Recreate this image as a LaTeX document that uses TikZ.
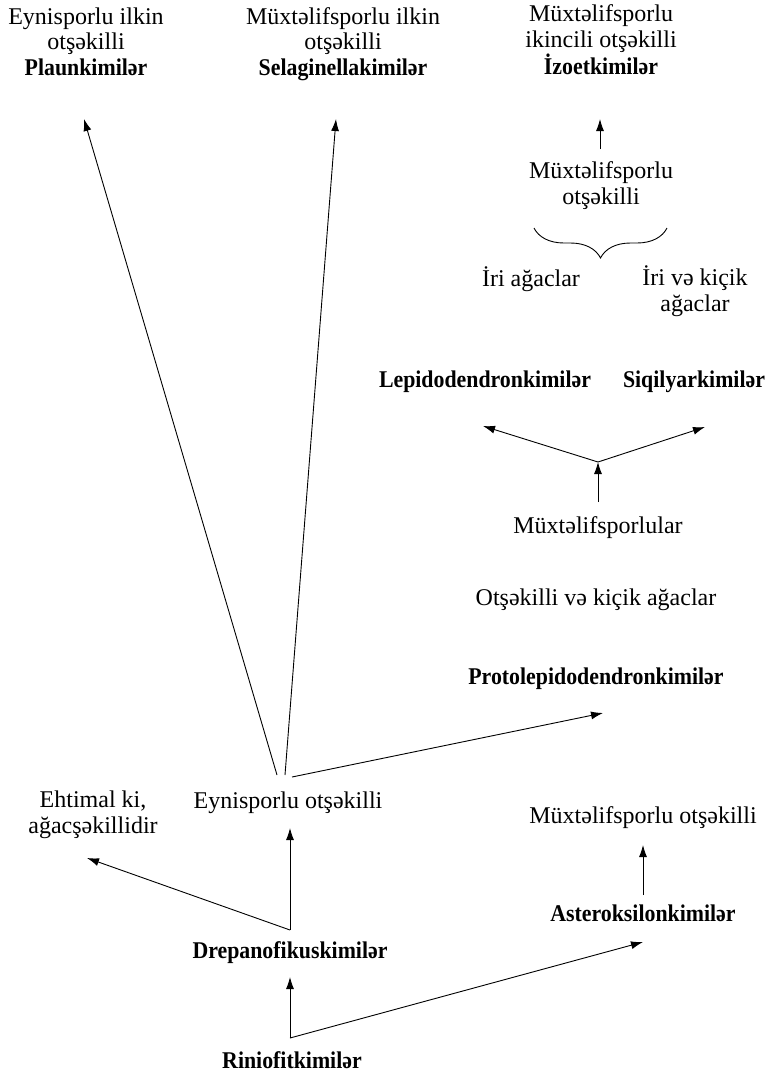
\documentclass[tikz,border=0pt]{standalone}
\usepackage{fontspec}
\setmainfont{Liberation Serif}[BoldFeatures={FakeStretch=0.91}]
\usetikzlibrary{arrows.meta,decorations.pathreplacing}
\begin{document}
\begin{tikzpicture}[x=1pt,y=-1pt,
  lbl/.style={align=center,font=\fontsize{24}{25.5}\selectfont,inner sep=0pt,anchor=base},
  blbl/.style={lbl,font=\fontsize{24}{25.5}\selectfont\bfseries},
  arr/.style={-{Latex[length=12pt,width=8pt]},line width=0.9pt},
  bracestyle/.style={decorate,decoration={brace,amplitude=30pt,mirror},line width=0.9pt}]
\useasboundingbox (0,0) rectangle (771,1072);

% text nodes (anchored at the baseline of the last line)
\node[lbl] (plaun) at (86,75) {Eynisporlu ilkin\\otşəkilli\\\textbf{Plaunkimilər}};
\node[lbl] (selag) at (343,75) {Müxtəlifsporlu ilkin\\otşəkilli\\\textbf{Selaginellakimilər}};
\node[lbl] (izoet) at (601,74) {Müxtəlifsporlu\\ikincili otşəkilli\\\textbf{İzoetkimilər}};
\node[lbl] (mux2) at (601,204) {Müxtəlifsporlu\\otşəkilli};
\node[lbl] (iri) at (531,286) {İri ağaclar};
\node[lbl] (irik) at (695,311) {İri və kiçik\\ağaclar};
\node[blbl] (lepi) at (485,387) {Lepidodendronkimilər};
\node[blbl] (siqi) at (694,387) {Siqilyarkimilər};
\node[lbl] (muxl) at (598,533) {Müxtəlifsporlular};
\node[lbl] (ots) at (596,605) {Otşəkilli və kiçik ağaclar};
\node[blbl] (proto) at (596,684) {Protolepidodendronkimilər};
\node[lbl] (eyn) at (288,808) {Eynisporlu otşəkilli};
\node[lbl] (ehti) at (93,833) {Ehtimal ki,\\ağacşəkillidir};
\node[lbl] (muxo) at (643,823) {Müxtəlifsporlu otşəkilli};
\node[blbl] (aster) at (643,921) {Asteroksilonkimilər};
\node[blbl] (drep) at (290,958) {Drepanofikuskimilər};
\node[blbl] (rinio) at (292,1068) {Riniofitkimilər};

% connector end points
\coordinate (eynA) at (277,775);
\coordinate (eynB) at (285,775);
\coordinate (eynC) at (292,777);
\coordinate (plaunIn) at (84,119);
\coordinate (selagIn) at (336,119);
\coordinate (protoIn) at (603,713);
\coordinate (izoetIn) at (600,119);
\coordinate (mux2Out) at (600,149);
\coordinate (muxlOut) at (598,502);
\coordinate (fork) at (598,462);
\coordinate (lepiIn) at (483,426);
\coordinate (siqiIn) at (705,427);
\coordinate (asterOut) at (643,895);
\coordinate (muxoIn) at (643,845);
\coordinate (drepOut) at (290,930);
\coordinate (eynIn) at (290,828);
\coordinate (ehtiIn) at (87,858);
\coordinate (rinioOut) at (290,1038);
\coordinate (drepIn) at (290,977);
\coordinate (asterIn) at (643,942);
\coordinate (braceL) at (534,228);
\coordinate (braceR) at (667,228);

% connectors
\draw[arr] (eynA) -- (plaunIn);
\draw[arr] (eynB) -- (selagIn);
\draw[arr] (eynC) -- (protoIn);
\draw[arr] (mux2Out) -- (izoetIn);
\draw[arr] (muxlOut) -- (fork);
\draw[arr] (fork) -- (lepiIn);
\draw[arr] (fork) -- (siqiIn);
\draw[arr] (asterOut) -- (muxoIn);
\draw[arr] (drepOut) -- (eynIn);
\draw[arr] (drepOut) -- (ehtiIn);
\draw[arr] (rinioOut) -- (drepIn);
\draw[arr] (rinioOut) -- (asterIn);
\draw[bracestyle] (braceL) -- (braceR);
\end{tikzpicture}
\end{document}
